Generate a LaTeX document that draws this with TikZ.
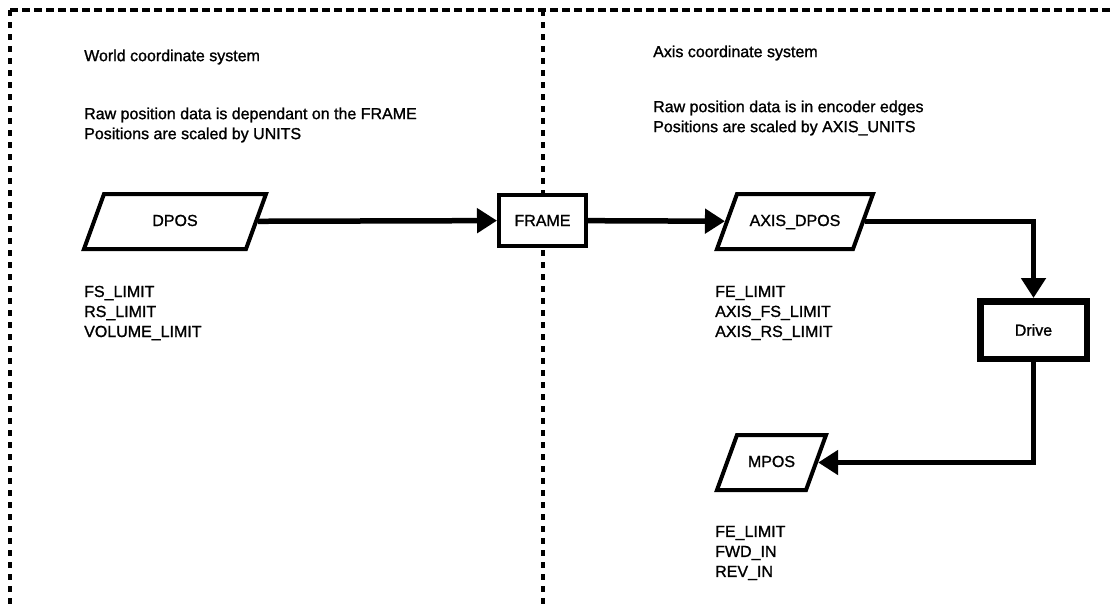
\documentclass[tikz,border=0pt]{standalone}
\usepackage{fontspec}
\setmainfont{Liberation Sans}
\newfontfamily\lblfam{Liberation Sans}[FakeBold=1.2]
\usetikzlibrary{shapes.geometric,arrows.meta}
\newcommand{\lbl}{\lblfam\fontsize{16}{20}\selectfont}
\tikzset{
  txt/.style = {align=left, inner sep=0pt, anchor=west, font=\lbl},% plain text
  para/.style = {trapezium, trapezium left angle=70, trapezium right angle=110,
    draw=black, fill=white, line width=4pt, inner xsep=0pt, inner ysep=20pt,
    text height=12pt, text depth=3pt, align=center, font=\lbl},% position value
  blk/.style = {rectangle, draw=black, fill=white, line width=4pt,
    inner sep=0pt, font=\lbl},% block
  sep/.style = {line width=3.5pt, dash pattern=on 6pt off 6pt},% region border
  link/.style = {line width=5.5pt, -{Triangle[length=20pt,width=24pt]}}% data flow
}
\begin{document}
\begin{tikzpicture}[x=1pt,y=-1pt]
\useasboundingbox (0,0) rectangle (1110,605);
% regions
\draw[sep, dash pattern=on 8pt off 4pt] (10,10) -- (1110,10);
\draw[sep] (10,10) -- (10,605);
\draw[sep] (543,10) -- (543,605);
% world side
\node[txt] (wtitle) at (84,57) {World coordinate system};
\node[txt] (wnote) at (84,125) {Raw position data is dependant on the FRAME\\Positions are scaled by UNITS};
\node[para, text width=142pt] (dpos) at (175,221.5) {DPOS};
\node[txt] (dlim) at (84,313) {FS\_LIMIT\\RS\_LIMIT\\VOLUME\_LIMIT};
\node[blk, minimum width=87pt, minimum height=51pt] (frame) at (542.5,220.5) {FRAME};
% axis side
\node[txt] (atitle) at (653,53) {Axis coordinate system};
\node[txt] (anote) at (653,118) {Raw position data is in encoder edges\\Positions are scaled by AXIS\_UNITS};
\node[para, text width=116pt] (adpos) at (795,221.5) {AXIS\_DPOS};
\node[txt] (alim) at (715,313) {FE\_LIMIT\\AXIS\_FS\_LIMIT\\AXIS\_RS\_LIMIT};
\node[blk, line width=6.5pt, minimum width=106.5pt, minimum height=57.5pt] (drive) at (1033.5,330) {Drive};
\node[para, text width=69pt] (mpos) at (771.5,462.5) {MPOS};
\node[txt] (mlim) at (715,553) {FE\_LIMIT\\FWD\_IN\\REV\_IN};
% flow
\draw[link] (dpos) -- (frame);
\draw[link] (frame) -- (adpos);
\draw[link] (adpos) -| (drive);
\draw[link] (drive) |- (mpos);
\end{tikzpicture}
\end{document}
